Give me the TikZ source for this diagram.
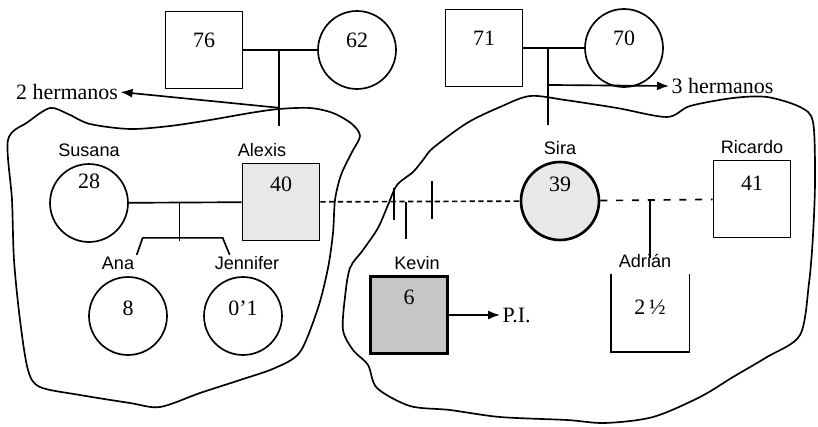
\documentclass[tikz,border=0pt]{standalone}
\usepackage{fontspec}
\setmainfont{Liberation Serif}
\newfontfamily\namefont{Liberation Sans}
\usetikzlibrary{positioning,arrows.meta,calc}

\begin{document}
\begin{tikzpicture}[x=0.02cm, y=-0.02cm, line width=0.95pt,
      male/.style={draw, rectangle, minimum size=1.54cm, inner sep=1pt,
                   font=\fontsize{12.5}{14}\selectfont},
      female/.style={draw, circle, minimum size=1.56cm, inner sep=1pt,
                     font=\fontsize{12.5}{14}\selectfont},
      lift/.style={text depth=#1},
      affected/.style={fill=gray!18},
      who/.style={font=\namefont\fontsize{10.3}{12}\selectfont, inner sep=1pt},
      aside/.style={font=\fontsize{12.5}{14}\selectfont, inner sep=1pt},
      dotline/.style={dash pattern=on 3pt off 2pt},
      dashline/.style={dash pattern=on 4pt off 5pt},
      label distance=2pt,
      >={Latex[length=2.4mm, width=1.8mm]}]
    \useasboundingbox (0,0) rectangle (818,426);
    % grandparents
    \node[male, lift=0.4cm] (p76) at (204,50) {76};
    \node[female, lift=0.4cm] (p62) at (357,50) {62};
    \node[male, lift=0.4cm] (p71) at (484,48) {71};
    \node[female, lift=0.4cm] (p70) at (624,48) {70};
    \node[aside] (h2) at (67,92) {2 hermanos};
    \node[aside, anchor=west] (h3) at (669,86) {3 hermanos};
    % left family
    \node[female, lift=0.88cm, label={[who]above:Susana}] (susana) at (89,203) {28};
    \node[male, affected, lift=0.72cm,
          label={[who, xshift=-0.38cm]above:Alexis}] (alexis) at (281,202) {40};
    \node[female, lift=0.32cm,
          label={[who, name=lana, xshift=-0.2cm]above:Ana}] (ana) at (128,316) {8};
    \node[female, lift=0.32cm,
          label={[who, name=ljen, xshift=0.08cm]above:Jennifer}] (jennifer) at (243,316) {0'1};
    % right family
    \node[female, affected, line width=1.5pt, lift=0.68cm,
          label={[who]above:Sira}] (sira) at (560,201) {39};
    \node[male, lift=0.64cm, label={[who]above:Ricardo}] (ricardo) at (752,199) {41};
    \node[male, fill=gray!45, line width=1.3pt, lift=0.72cm,
          label={[who, xshift=0.16cm]above:Kevin}] (kevin) at (409,315) {6};
    \node[male, draw=none, lift=0.24cm,
          label={[who, xshift=-0.1cm]above:Adri\'an}] (adrian) at (650,313) {2\,½};
    \node[aside, anchor=west] (pi) at (500,315) {P.I.};

    % couples and descent
    \draw (p76) -- coordinate[pos=0.48] (u1) (p62);
    \draw (u1) -- ++(0,76) coordinate (d1);
    \draw[->] ($(u1)!0.76!(d1)$) -- (h2.east);
    \draw (p71) -- coordinate[pos=0.4] (u2) (p70);
    \draw (u2) -- ++(0,77) coordinate (d2);
    \draw[->] ($(u2)!0.48!(d2)$) -- (h3.west);
    \draw (susana) -- coordinate[pos=0.45] (u3) (alexis);
    \draw (u3) -- ++(0,38);
    \draw (lana.north east) -- ++(6,-17) -- ++(80,0) -- ++(7,17);
    \draw[dotline] (alexis) -- coordinate[pos=0.37] (v1) coordinate[pos=0.43] (u4)
      coordinate[pos=0.56] (v2) (sira);
    \draw (v1) ++(0,-14) -- ++(0,32);
    \draw (v2) ++(0,-20) -- ++(0,38);
    \draw (u4) -- ++(0,37);
    \draw[dashline] (sira) -- coordinate[pos=0.44] (u5) (ricardo);
    \draw (u5) -- ++(0,58);
    \draw (adrian.north west) -- (adrian.south west) -- (adrian.south east) -- (adrian.north east);
    \draw[->] (kevin) -- (pi);

    % households
    \draw plot[smooth cycle, tension=0.5] coordinates {
      (8,140) (28,122) (50,108) (68,114) (90,124) (130,129) (170,126) (210,120)
      (250,113) (279,109) (310,108) (333,113) (352,124) (360,136) (352,152)
      (341,175) (335,200) (333,233) (328,268) (318,308) (300,352) (275,368)
      (240,380) (200,393) (160,407) (130,403) (80,395) (40,387) (28,370)
      (20,320) (14,260) (12,200)};
    \draw plot[smooth cycle, tension=0.5] coordinates {
      (433,148) (467,123) (500,107) (530,96) (565,100) (617,108) (667,117)
      (690,106) (733,98) (767,97) (800,107) (813,122) (815,180) (813,235)
      (809,283) (800,335) (767,357) (733,377) (700,397) (653,417) (605,423)
      (567,420) (500,417) (450,410) (410,406) (377,388) (368,365) (353,350)
      (343,330) (345,297) (350,268) (363,250) (378,228) (388,205) (397,185)
      (413,172) (423,160)};
\end{tikzpicture}
\end{document}
